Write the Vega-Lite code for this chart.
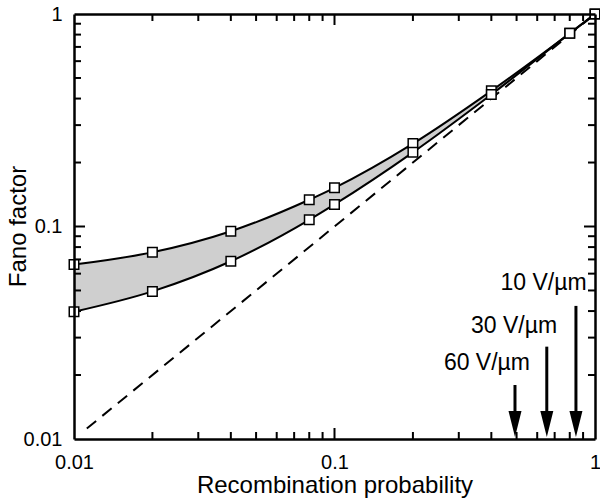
{
  "$schema": "https://vega.github.io/schema/vega-lite/v6.json",
  "width": 521,
  "height": 425,
  "autosize": "none",
  "padding": {"left": 74, "top": 14, "right": 5, "bottom": 60},
  "config": {
    "view": {"stroke": null},
    "axis": {"grid": false, "labelFont": "Liberation Sans", "titleFont": "Liberation Sans", "labelColor": "black", "titleColor": "black", "domainColor": "black", "titleFontWeight": "normal"},
    "text": {"font": "Liberation Sans"}
  },
  "datasets": {
    "curves": [
      {"p": 0.01, "F": 0.0662, "series": "upper"},
      {"p": 0.02, "F": 0.0756, "series": "upper"},
      {"p": 0.04, "F": 0.095, "series": "upper"},
      {"p": 0.08, "F": 0.1336, "series": "upper"},
      {"p": 0.1, "F": 0.152, "series": "upper"},
      {"p": 0.2, "F": 0.2455, "series": "upper"},
      {"p": 0.4, "F": 0.435, "series": "upper"},
      {"p": 0.8, "F": 0.811, "series": "upper"},
      {"p": 1, "F": 1, "series": "upper"},
      {"p": 0.01, "F": 0.0397, "series": "lower"},
      {"p": 0.02, "F": 0.0495, "series": "lower"},
      {"p": 0.04, "F": 0.0686, "series": "lower"},
      {"p": 0.08, "F": 0.1075, "series": "lower"},
      {"p": 0.1, "F": 0.127, "series": "lower"},
      {"p": 0.2, "F": 0.2234, "series": "lower"},
      {"p": 0.4, "F": 0.418, "series": "lower"},
      {"p": 0.8, "F": 0.811, "series": "lower"},
      {"p": 1, "F": 1, "series": "lower"}
    ],
    "diagonal": [
      {"p": 0.0112, "F": 0.0112},
      {"p": 1, "F": 1}
    ],
    "minorticks": [
      {"v": 0.02}, {"v": 0.03}, {"v": 0.04}, {"v": 0.05}, {"v": 0.06}, {"v": 0.07}, {"v": 0.08}, {"v": 0.09},
      {"v": 0.2}, {"v": 0.3}, {"v": 0.4}, {"v": 0.5}, {"v": 0.6}, {"v": 0.7}, {"v": 0.8}, {"v": 0.9}
    ],
    "majorticks": [
      {"v": 0.1}
    ],
    "arrows": [
      {"label": "60 V/µm", "p": 0.493, "top": 0.01795, "base": 0.01177, "tip": 0.01022, "tx": 0.563, "ty": 0.0228},
      {"label": "30 V/µm", "p": 0.653, "top": 0.0272, "base": 0.01177, "tip": 0.01022, "tx": 0.715, "ty": 0.034},
      {"label": "10 V/µm", "p": 0.845, "top": 0.0423, "base": 0.01177, "tip": 0.01022, "tx": 0.929, "ty": 0.0542}
    ]
  },
  "resolve": {"axis": {"x": "independent", "y": "independent"}},
  "layer": [
    {
      "data": {"name": "curves"},
      "transform": [{"pivot": "series", "value": "F", "groupby": ["p"]}],
      "mark": {"type": "area", "interpolate": "monotone", "color": "#cfcfcf", "opacity": 1},
      "encoding": {
        "x": {"field": "p", "type": "quantitative", "scale": {"type": "log", "domain": [0.01, 1], "nice": false},
          "axis": {"orient": "bottom", "values": [0.01, 0.1, 1], "format": "~g", "ticks": false, "domain": true, "domainWidth": 2.5, "zindex": 2, "labelFontSize": 20, "labelPadding": 29, "labelBaseline": "alphabetic", "labelFlush": false,
            "title": "Recombination probability", "titleFontSize": 24, "titleX": 260.5, "titleY": 53, "titleBaseline": "alphabetic", "titleAlign": "center"}},
        "y": {"field": "lower", "type": "quantitative", "scale": {"type": "log", "domain": [0.01, 1], "nice": false},
          "axis": {"orient": "left", "values": [0.01, 0.1, 1], "format": "~g", "ticks": false, "domain": true, "domainWidth": 2.5, "zindex": 2, "labelFontSize": 20, "labelPadding": 12, "labelFlush": false,
            "title": "Fano factor", "titleFontSize": 24, "titleAngle": -90, "titleX": -49, "titleY": 212, "titleBaseline": "alphabetic", "titleAlign": "center"}},
        "y2": {"field": "upper"}
      }
    },
    {
      "data": {"name": "diagonal"},
      "mark": {"type": "line", "color": "black", "strokeWidth": 2, "strokeDash": [12, 8]},
      "encoding": {
        "x": {"field": "p", "type": "quantitative", "scale": {"type": "log", "domain": [0.01, 1], "nice": false}, "axis": null},
        "y": {"field": "F", "type": "quantitative", "scale": {"type": "log", "domain": [0.01, 1], "nice": false}, "axis": null}
      }
    },
    {
      "data": {"name": "curves"},
      "mark": {"type": "line", "interpolate": "monotone", "color": "black", "strokeWidth": 2},
      "encoding": {
        "x": {"field": "p", "type": "quantitative", "scale": {"type": "log", "domain": [0.01, 1], "nice": false}, "axis": null},
        "y": {"field": "F", "type": "quantitative", "scale": {"type": "log", "domain": [0.01, 1], "nice": false}, "axis": null},
        "detail": {"field": "series"}
      }
    },
    {
      "data": {"name": "minorticks"},
      "mark": {"type": "tick", "orient": "vertical", "color": "black", "thickness": 2, "size": 7, "opacity": 1, "yOffset": -3.5},
      "encoding": {
        "x": {"field": "v", "type": "quantitative", "scale": {"type": "log", "domain": [0.01, 1], "nice": false}, "axis": null},
        "y": {"datum": 0.01, "type": "quantitative", "scale": {"type": "log", "domain": [0.01, 1], "nice": false}, "axis": null}
      }
    },
    {
      "data": {"name": "minorticks"},
      "mark": {"type": "tick", "orient": "vertical", "color": "black", "thickness": 2, "size": 7, "opacity": 1, "yOffset": 3.5},
      "encoding": {
        "x": {"field": "v", "type": "quantitative", "scale": {"type": "log", "domain": [0.01, 1], "nice": false}, "axis": null},
        "y": {"datum": 1, "type": "quantitative", "scale": {"type": "log", "domain": [0.01, 1], "nice": false}, "axis": null}
      }
    },
    {
      "data": {"name": "minorticks"},
      "mark": {"type": "tick", "orient": "horizontal", "color": "black", "thickness": 2, "size": 7, "opacity": 1, "xOffset": 3.5},
      "encoding": {
        "y": {"field": "v", "type": "quantitative", "scale": {"type": "log", "domain": [0.01, 1], "nice": false}, "axis": null},
        "x": {"datum": 0.01, "type": "quantitative", "scale": {"type": "log", "domain": [0.01, 1], "nice": false}, "axis": null}
      }
    },
    {
      "data": {"name": "minorticks"},
      "mark": {"type": "tick", "orient": "horizontal", "color": "black", "thickness": 2, "size": 7, "opacity": 1, "xOffset": -3.5},
      "encoding": {
        "y": {"field": "v", "type": "quantitative", "scale": {"type": "log", "domain": [0.01, 1], "nice": false}, "axis": null},
        "x": {"datum": 1, "type": "quantitative", "scale": {"type": "log", "domain": [0.01, 1], "nice": false}, "axis": null}
      }
    },
    {
      "data": {"name": "majorticks"},
      "mark": {"type": "tick", "orient": "vertical", "color": "black", "thickness": 2, "size": 11, "opacity": 1, "yOffset": -5.5},
      "encoding": {
        "x": {"field": "v", "type": "quantitative", "scale": {"type": "log", "domain": [0.01, 1], "nice": false}, "axis": null},
        "y": {"datum": 0.01, "type": "quantitative", "scale": {"type": "log", "domain": [0.01, 1], "nice": false}, "axis": null}
      }
    },
    {
      "data": {"name": "majorticks"},
      "mark": {"type": "tick", "orient": "vertical", "color": "black", "thickness": 2, "size": 11, "opacity": 1, "yOffset": 5.5},
      "encoding": {
        "x": {"field": "v", "type": "quantitative", "scale": {"type": "log", "domain": [0.01, 1], "nice": false}, "axis": null},
        "y": {"datum": 1, "type": "quantitative", "scale": {"type": "log", "domain": [0.01, 1], "nice": false}, "axis": null}
      }
    },
    {
      "data": {"name": "majorticks"},
      "mark": {"type": "tick", "orient": "horizontal", "color": "black", "thickness": 2, "size": 11, "opacity": 1, "xOffset": 5.5},
      "encoding": {
        "y": {"field": "v", "type": "quantitative", "scale": {"type": "log", "domain": [0.01, 1], "nice": false}, "axis": null},
        "x": {"datum": 0.01, "type": "quantitative", "scale": {"type": "log", "domain": [0.01, 1], "nice": false}, "axis": null}
      }
    },
    {
      "data": {"name": "majorticks"},
      "mark": {"type": "tick", "orient": "horizontal", "color": "black", "thickness": 2, "size": 11, "opacity": 1, "xOffset": -5.5},
      "encoding": {
        "y": {"field": "v", "type": "quantitative", "scale": {"type": "log", "domain": [0.01, 1], "nice": false}, "axis": null},
        "x": {"datum": 1, "type": "quantitative", "scale": {"type": "log", "domain": [0.01, 1], "nice": false}, "axis": null}
      }
    },
    {
      "data": {"name": "curves"},
      "mark": {"type": "point", "shape": "square", "filled": true, "fill": "white", "stroke": "black", "strokeWidth": 1.5, "size": 90, "opacity": 1},
      "encoding": {
        "x": {"field": "p", "type": "quantitative", "scale": {"type": "log", "domain": [0.01, 1], "nice": false}, "axis": null},
        "y": {"field": "F", "type": "quantitative", "scale": {"type": "log", "domain": [0.01, 1], "nice": false}, "axis": null}
      }
    },
    {
      "data": {"name": "arrows"},
      "mark": {"type": "rule", "color": "black", "strokeWidth": 3},
      "encoding": {
        "x": {"field": "p", "type": "quantitative", "scale": {"type": "log", "domain": [0.01, 1], "nice": false}, "axis": null},
        "y": {"field": "top", "type": "quantitative", "scale": {"type": "log", "domain": [0.01, 1], "nice": false}, "axis": null},
        "y2": {"field": "base"}
      }
    },
    {
      "data": {"name": "arrows"},
      "mark": {"type": "point", "shape": "M-0.5,-2L0.5,-2L0,0Z", "filled": true, "color": "black", "size": 676, "opacity": 1, "strokeWidth": 0},
      "encoding": {
        "x": {"field": "p", "type": "quantitative", "scale": {"type": "log", "domain": [0.01, 1], "nice": false},
          "axis": {"orient": "top", "values": [0.01, 1], "labels": false, "ticks": false, "domain": true, "domainWidth": 2.5, "title": null, "zindex": 2}},
        "y": {"field": "tip", "type": "quantitative", "scale": {"type": "log", "domain": [0.01, 1], "nice": false},
          "axis": {"orient": "right", "values": [0.01, 1], "labels": false, "ticks": false, "domain": true, "domainWidth": 2.5, "title": null, "zindex": 2}}
      }
    },
    {
      "data": {"name": "arrows"},
      "mark": {"type": "text", "align": "right", "baseline": "middle", "fontSize": 23, "color": "black"},
      "encoding": {
        "x": {"field": "tx", "type": "quantitative", "scale": {"type": "log", "domain": [0.01, 1], "nice": false}, "axis": null},
        "y": {"field": "ty", "type": "quantitative", "scale": {"type": "log", "domain": [0.01, 1], "nice": false}, "axis": null},
        "text": {"field": "label"}
      }
    }
  ]
}
